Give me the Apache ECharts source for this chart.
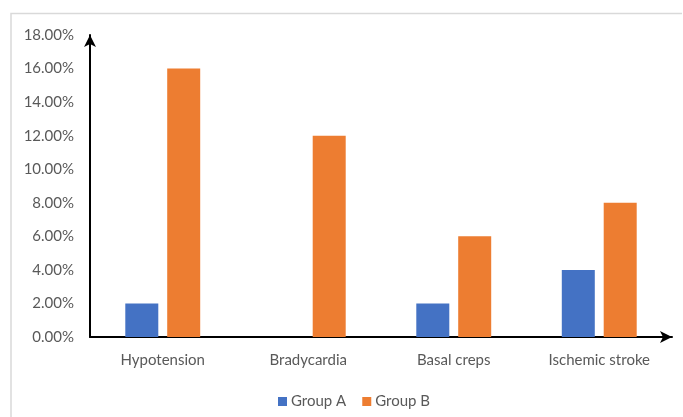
<!DOCTYPE html>
<html>
<head>
<meta charset="utf-8">
<script src="https://cdn.jsdelivr.net/npm/echarts@6/dist/echarts.min.js"></script>
<style>
  html, body { margin: 0; padding: 0; background: #fff; }
  #chart { width: 683px; height: 417px; }
</style>
</head>
<body>
<div id="chart"></div>
<script>
// Adverse events by group (percent of patients)
const categories = ['Hypotension', 'Bradycardia', 'Basal creps', 'Ischemic stroke'];
const groupA = [2, 0, 2, 4];
const groupB = [16, 12, 6, 8];
const seriesNames = ['Group A', 'Group B'];

const labelFont = 'Lato, "Liberation Sans", sans-serif';
const textColor = '#595959';

const chart = echarts.init(document.getElementById('chart'));
chart.setOption({
  animation: false,
  backgroundColor: '#fff',
  grid: { left: 90, right: 11, top: 35, bottom: 80, containLabel: false },
  legend: {
    data: seriesNames,
    top: 389,
    left: 273,
    itemWidth: 9,
    itemHeight: 9,
    itemGap: 16,
    icon: 'rect',
    textStyle: { color: textColor, fontSize: 15, fontFamily: labelFont, padding: [0, 0, 0, -1] }
  },
  xAxis: {
    type: 'category',
    data: categories,
    axisLine: { lineStyle: { color: '#000', width: 2 }, symbol: ['none', 'arrow'], symbolSize: [9, 12] },
    axisTick: { show: false },
    axisLabel: { color: textColor, fontSize: 15, fontFamily: labelFont, margin: 16 },
    splitLine: { show: false }
  },
  yAxis: {
    type: 'value',
    min: 0,
    max: 18,
    interval: 2,
    axisLine: { show: true, lineStyle: { color: '#000', width: 2 }, symbol: ['none', 'arrow'], symbolSize: [9, 12] },
    axisTick: { show: false },
    splitLine: { show: false },
    axisLabel: {
      color: textColor, fontSize: 15, fontFamily: labelFont, margin: 16,
      formatter: v => v.toFixed(2) + '%'
    }
  },
  series: [
    { name: seriesNames[0], type: 'bar', data: groupA, barWidth: 33, barGap: '27%', itemStyle: { color: '#4472C4' } },
    { name: seriesNames[1], type: 'bar', data: groupB, barWidth: 33, barGap: '27%', itemStyle: { color: '#ED7D31' } }
  ],
  graphic: [
    { type: 'polyline', shape: { points: [[11, 417], [11, 13.5], [682, 13.5]] }, style: { stroke: '#d9d9d9', lineWidth: 1.5, fill: null } }
  ]
});
</script>
</body>
</html>
